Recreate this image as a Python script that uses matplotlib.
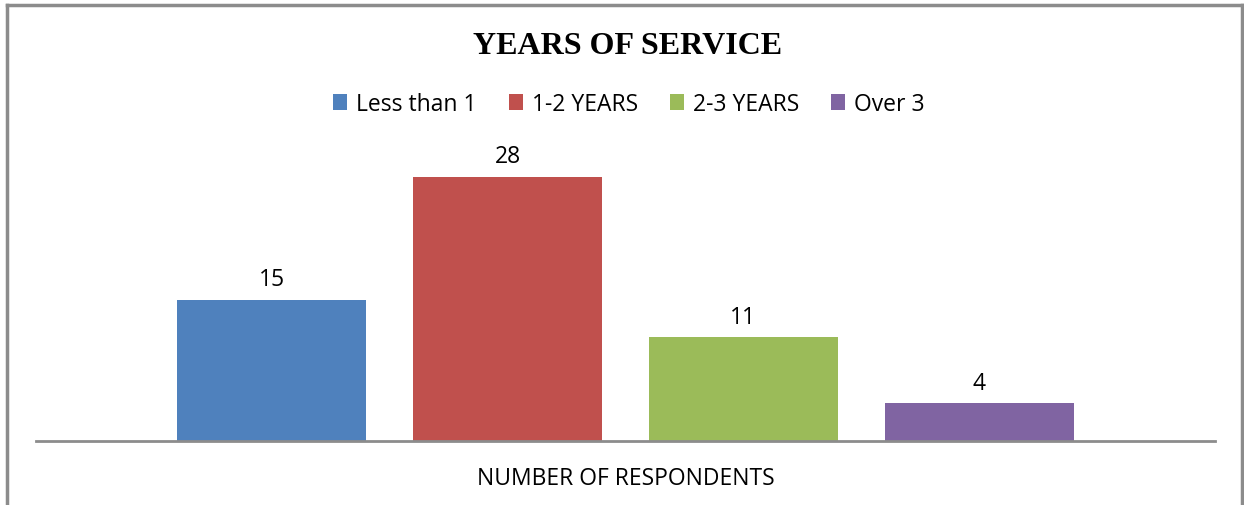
import matplotlib.pyplot as plt
from matplotlib.lines import Line2D
from matplotlib.patches import Patch

Title = "YEARS OF SERVICE"

category = "NUMBER OF RESPONDENTS"
series = ["Less than 1", "1-2 YEARS", "2-3 YEARS", "Over 3"]
values = [15, 28, 11, 4]
colors = ["#4F81BD", "#C0504D", "#9BBB59", "#8064A2"]

W, H = 1244, 506
fig = plt.figure(figsize=(W / 100, H / 100), dpi=100)
ax = fig.add_axes([36 / W, (H - 442) / H, (1215 - 36) / W, (442 - 159) / H])

step = 0.2
width = 0.16
for i, (name, val, col) in enumerate(zip(series, values, colors)):
    x = (i - (len(series) - 1) / 2) * step
    ax.bar(x, val, width=width, color=col, label=name)
    ax.text(x, val + 0.9, str(val), ha="center", va="bottom",
            fontsize=16.5, family="Open Sans", color="#000000")

ax.set_xlim(-0.5, 0.5)
ax.set_ylim(0, 30)
ax.set_xticks([0])
ax.set_xticklabels([category], fontsize=16.5, family="Open Sans")
ax.tick_params(axis="x", length=0, pad=18)
ax.set_yticks([])
for s in ["top", "right", "left"]:
    ax.spines[s].set_visible(False)
ax.spines["bottom"].set_color("#8c8c8c")
ax.spines["bottom"].set_linewidth(2)

fig.text(628 / W, (H - 47) / H, Title, ha="center", va="center",
         fontsize=23, fontweight="bold", family="Liberation Serif")

handles = [Patch(facecolor=c, edgecolor="none") for c in colors]
fig.legend(handles, series, loc="center", bbox_to_anchor=(629 / W, (H - 105) / H),
           ncol=4, frameon=False, handlelength=0.6, handleheight=0.65,
           handletextpad=0.4, columnspacing=1.4,
           prop={"family": "Open Sans", "size": 16.5})

# chart frame (bottom edge falls outside the image)
frame = dict(color="#8c8c8c", linewidth=2.5, transform=fig.transFigure)
fig.add_artist(Line2D([7 / W, 7 / W], [0, 1 - 6 / H], **frame))
fig.add_artist(Line2D([7 / W, 1242 / W], [1 - 6 / H, 1 - 6 / H], **frame))
fig.add_artist(Line2D([1242 / W, 1242 / W], [0, 1 - 6 / H], **frame))

fig.savefig("out.png", dpi=100)
